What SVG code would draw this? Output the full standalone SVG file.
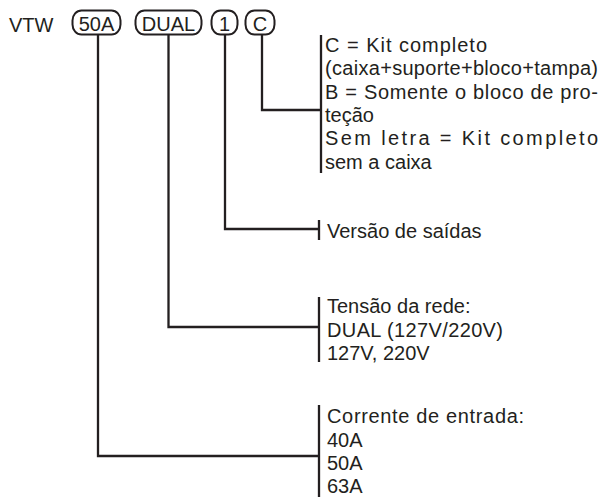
<svg xmlns="http://www.w3.org/2000/svg" width="601" height="497" viewBox="0 0 601 497">
<style>
text{font-family:"Liberation Sans",Arial,sans-serif;font-size:20px;fill:#231f20}
.pill{fill:none;stroke:#231f20;stroke-width:2}
.c{text-anchor:middle}
.ln{fill:none;stroke:#231f20;stroke-width:2.3}
</style>
<rect width="601" height="497" fill="#fff"/>
<g id="title"><text x="9" y="31.5">VTW</text></g>
<g id="n50A"><rect class="pill" x="72.5" y="10.5" width="48" height="24" rx="9" ry="10"/><text class="c" x="96.5" y="30.5">50A</text></g>
<g id="nDUAL"><rect class="pill" x="135.5" y="10.5" width="66" height="24" rx="9" ry="10"/><text class="c" x="168.5" y="30.5">DUAL</text></g>
<g id="n1"><rect class="pill" x="211.5" y="10.5" width="26" height="24" rx="9" ry="10"/><text class="c" x="224.5" y="30.5">1</text></g>
<g id="nC"><rect class="pill" x="245.5" y="10.5" width="29" height="24" rx="9" ry="10"/><text class="c" x="260" y="30.5">C</text></g>
<g id="connectors">
<path class="ln" d="M262 35V110H321M321 35V173"/>
<path class="ln" d="M225 35V229H319M319 220V240"/>
<path class="ln" d="M168.5 35V327H319M319 297V362"/>
<path class="ln" d="M98 35V456H319M319 405V497"/>
</g>
<g id="descC">
<text x="325" y="52" textLength="162" lengthAdjust="spacing">C = Kit completo</text>
<text x="325" y="75.3" textLength="273" lengthAdjust="spacing">(caixa+suporte+bloco+tampa)</text>
<text x="325" y="98.6" textLength="273" lengthAdjust="spacing">B = Somente o bloco de pro-</text>
<text x="325" y="122">teção</text>
<text x="325" y="145.3" textLength="273" lengthAdjust="spacing">Sem letra = Kit completo</text>
<text x="325" y="168.6">sem a caixa</text>
</g>
<g id="desc1"><text x="327" y="237.5">Versão de saídas</text></g>
<g id="descDUAL">
<text x="327" y="313">Tensão da rede:</text>
<text x="327" y="336.5" textLength="176" lengthAdjust="spacing">DUAL (127V/220V)</text>
<text x="327" y="359.5">127V, 220V</text>
</g>
<g id="desc50A">
<text x="327" y="423" textLength="197" lengthAdjust="spacing">Corrente de entrada:</text>
<text x="327" y="446.5">40A</text>
<text x="327" y="470">50A</text>
<text x="327" y="493">63A</text>
</g>
</svg>
